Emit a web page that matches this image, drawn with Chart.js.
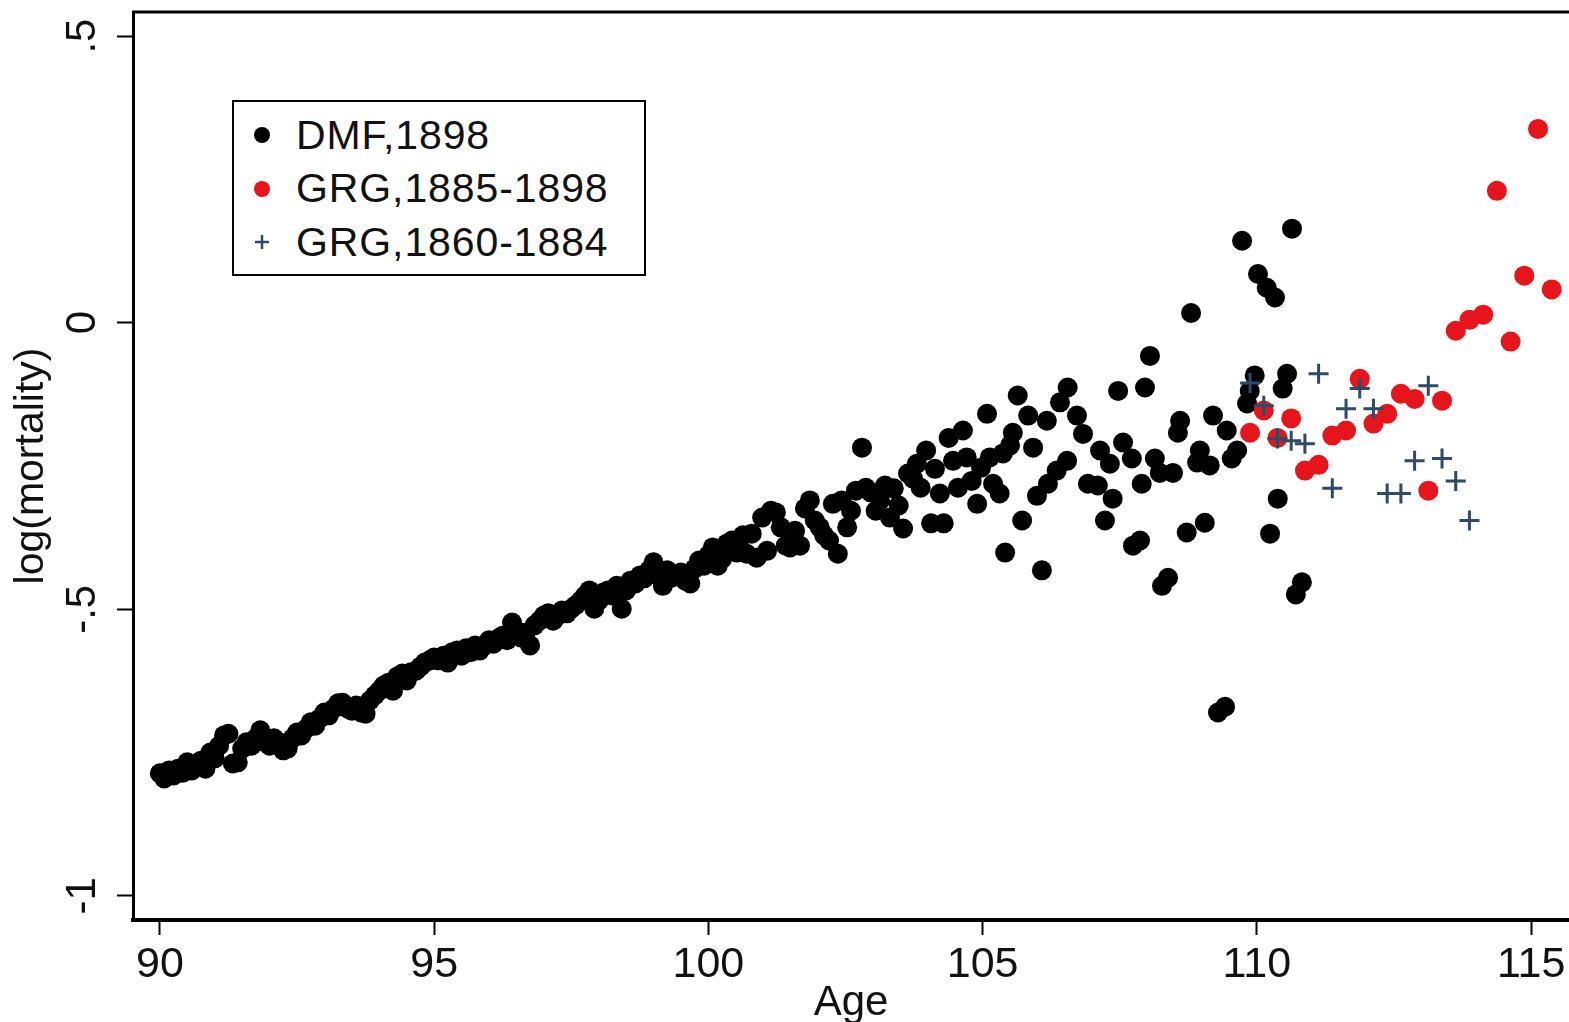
<!DOCTYPE html>
<html>
<head>
<meta charset="utf-8">
<script src="https://cdn.jsdelivr.net/npm/chart.js@4.4.1/dist/chart.umd.min.js"></script>
<style>
  html, body { margin: 0; padding: 0; background: #fff; }
  #wrap { position: relative; width: 1569px; height: 1022px; overflow: hidden; }
  #chart { position: absolute; left: 0; top: 0; }
  #legend {
    position: absolute; left: 232px; top: 100px; width: 414px; height: 176px;
    box-sizing: border-box; border: 2px solid #000; background: #fff;
    font-family: "Liberation Sans", Arial, sans-serif; font-size: 41px; color: #111;
    letter-spacing: 0.9px;
  }
  .leg-row { position: absolute; left: 0; height: 52px; display: flex; align-items: center; }
  .leg-mark { width: 56px; height: 52px; display: flex; align-items: center; justify-content: center; }
  .leg-dot { width: 16px; height: 16px; border-radius: 50%; }
  .leg-text { margin-left: 6px; }
</style>
</head>
<body>
<div id="wrap">
  <canvas id="chart" width="1569" height="1022"></canvas>
  <div id="legend"></div>
</div>
<script>
// DMF, 1898 (black dots)
const dmfAge = [
  90.00, 90.08, 90.17, 90.25, 90.33, 90.42, 90.50, 90.58, 90.67, 90.75, 90.83, 90.92,
  91.00, 91.08, 91.17, 91.25, 91.33, 91.42, 91.50, 91.58, 91.67, 91.75, 91.83, 91.92,
  92.00, 92.08, 92.17, 92.25, 92.33, 92.42, 92.50, 92.58, 92.67, 92.75, 92.83, 92.92,
  93.00, 93.08, 93.17, 93.25, 93.33, 93.42, 93.50, 93.58, 93.67, 93.75, 93.83, 93.92,
  94.00, 94.08, 94.17, 94.25, 94.33, 94.42, 94.50, 94.58, 94.67, 94.75, 94.83, 94.92,
  95.00, 95.08, 95.17, 95.25, 95.33, 95.42, 95.50, 95.58, 95.67, 95.75, 95.83, 95.92,
  96.00, 96.08, 96.17, 96.25, 96.33, 96.42, 96.50, 96.58, 96.67, 96.75, 96.83, 96.92,
  97.00, 97.08, 97.17, 97.25, 97.33, 97.42, 97.50, 97.58, 97.67, 97.75, 97.83, 97.92,
  98.00, 98.08, 98.17, 98.25, 98.33, 98.42, 98.50, 98.58, 98.67, 98.75, 98.83, 98.92,
  99.00, 99.08, 99.17, 99.25, 99.33, 99.42, 99.50, 99.58, 99.67, 99.75, 99.83, 99.92,
  100.00, 100.08,
  100.17, 100.25, 100.34, 100.43, 100.52, 100.63, 100.70, 100.79, 100.88, 100.98,
  101.07, 101.14, 101.23, 101.32, 101.41, 101.49, 101.58, 101.67, 101.76, 101.85, 101.94,
  102.03, 102.11, 102.20, 102.27, 102.36, 102.43, 102.53, 102.60, 102.69, 102.80, 102.87, 102.96,
  103.05, 103.13, 103.22, 103.31, 103.38, 103.47, 103.55, 103.64, 103.73, 103.80, 103.87, 103.97,
  104.06, 104.13, 104.22, 104.29, 104.38, 104.46, 104.55, 104.64, 104.71, 104.80, 104.90, 104.97,
  105.08, 105.13, 105.19, 105.31, 105.37, 105.41, 105.50, 105.55, 105.64, 105.72, 105.83, 105.92, 105.99,
  106.08, 106.17, 106.19, 106.35, 106.41, 106.54, 106.55, 106.72, 106.83, 106.92,
  107.10, 107.14, 107.23, 107.32, 107.37, 107.47, 107.56, 107.72, 107.74, 107.87, 107.90, 107.96,
  108.05, 108.14, 108.23, 108.27, 108.38, 108.47, 108.56, 108.60, 108.72, 108.80, 108.91, 108.96,
  109.05, 109.14, 109.20, 109.29, 109.42, 109.45, 109.54, 109.64, 109.73, 109.82, 109.87, 109.96,
  110.02, 110.18, 110.24, 110.33, 110.38, 110.47, 110.55, 110.64, 110.71, 110.82
];
const dmfLogMort = [
  -0.786, -0.795, -0.781, -0.790, -0.778, -0.785, -0.767, -0.781, -0.772, -0.764, -0.778, -0.750,
  -0.760, -0.738, -0.720, -0.717, -0.769, -0.767, -0.743, -0.732, -0.738, -0.725, -0.711, -0.732,
  -0.738, -0.725, -0.732, -0.746, -0.743, -0.725, -0.715, -0.720, -0.708, -0.697, -0.703, -0.690,
  -0.680, -0.685, -0.673, -0.664, -0.663, -0.673, -0.677, -0.668, -0.680, -0.682, -0.659, -0.650,
  -0.642, -0.633, -0.628, -0.642, -0.617, -0.612, -0.624, -0.610, -0.607, -0.600, -0.593, -0.589,
  -0.584, -0.589, -0.581, -0.593, -0.575, -0.572, -0.581, -0.568, -0.575, -0.563, -0.572, -0.563,
  -0.554, -0.560, -0.551, -0.546, -0.554, -0.523, -0.537, -0.549, -0.541, -0.563, -0.528, -0.520,
  -0.511, -0.507, -0.520, -0.511, -0.502, -0.507, -0.499, -0.493, -0.485, -0.476, -0.467, -0.499,
  -0.485, -0.471, -0.467, -0.476, -0.459, -0.499, -0.467, -0.450, -0.455, -0.441, -0.446, -0.432,
  -0.418, -0.441, -0.459, -0.432, -0.445, -0.441, -0.436, -0.450, -0.455, -0.429, -0.415, -0.424,
  -0.406, -0.392,
  -0.424, -0.412, -0.385, -0.380, -0.401, -0.371, -0.403, -0.368, -0.410, -0.340,
  -0.398, -0.328, -0.331, -0.357, -0.389, -0.392, -0.363, -0.389, -0.324, -0.310, -0.345,
  -0.357, -0.371, -0.380, -0.316, -0.403, -0.310, -0.357, -0.328, -0.293, -0.218, -0.288, -0.296,
  -0.328, -0.310, -0.284, -0.340, -0.289, -0.319, -0.359, -0.263, -0.272, -0.246, -0.288, -0.223,
  -0.350, -0.255, -0.298, -0.350, -0.201, -0.241, -0.288, -0.188, -0.235, -0.276, -0.316, -0.253,
  -0.159, -0.235, -0.281, -0.298, -0.228, -0.401, -0.214, -0.192, -0.127, -0.345, -0.162, -0.218, -0.302,
  -0.432, -0.171, -0.281, -0.258, -0.139, -0.241, -0.113, -0.162, -0.194, -0.281,
  -0.284, -0.223, -0.345, -0.246, -0.307, -0.119, -0.209, -0.237, -0.389, -0.380, -0.281, -0.113,
  -0.058, -0.237, -0.262, -0.459, -0.445, -0.262, -0.192, -0.171, -0.366, 0.017, -0.244, -0.223,
  -0.349, -0.249, -0.162, -0.680, -0.670, -0.188, -0.237, -0.223, 0.143, -0.141, -0.119, -0.092,
  0.085, 0.061, -0.368, 0.044, -0.307, -0.115, -0.089, 0.164, -0.474, -0.453
];

// GRG, 1885-1898 (red dots)
const grgNewAge = [109.875, 110.125, 110.375, 110.625, 110.875, 111.125, 111.375, 111.625,
  111.875, 112.125, 112.375, 112.625, 112.875, 113.125, 113.375, 113.625, 113.875, 114.125,
  114.375, 114.625, 114.875, 115.125, 115.375];
const grgNewLogMort = [-0.192, -0.153, -0.201, -0.167, -0.258, -0.248, -0.197, -0.188,
  -0.098, -0.176, -0.159, -0.124, -0.133, -0.293, -0.136, -0.014, 0.005, 0.014,
  0.230, -0.033, 0.082, 0.338, 0.058];

// GRG, 1860-1884 (plus signs)
const grgOldAge = [109.875, 110.125, 110.375, 110.625, 110.875, 111.125, 111.375, 111.625,
  111.875, 112.125, 112.375, 112.625, 112.875, 113.125, 113.375, 113.625, 113.875];
const grgOldLogMort = [-0.105, -0.145, -0.202, -0.206, -0.211, -0.089, -0.289, -0.150,
  -0.115, -0.150, -0.298, -0.298, -0.241, -0.110, -0.237, -0.276, -0.345];

const xTicks = [90, 95, 100, 105, 110, 115];
const yTicks = [-1, -0.5, 0, 0.5];

const FONT = '"Liberation Sans", Arial, sans-serif';
const INK = "#111";

function pts(xs, ys) { return xs.map((x, i) => ({ x, y: ys[i] })); }
function fmtY(v) { return v === 0 ? "0" : String(v).replace("0.", "."); }

const series = [
  { label: "DMF,1898", data: pts(dmfAge, dmfLogMort), pointStyle: "circle", pointRadius: 10,
    backgroundColor: "#000", borderColor: "#000", borderWidth: 0, order: 3 },
  { label: "GRG,1885-1898", data: pts(grgNewAge, grgNewLogMort), pointStyle: "circle", pointRadius: 10,
    backgroundColor: "#e8141c", borderColor: "#e8141c", borderWidth: 0, order: 2 },
  { label: "GRG,1860-1884", data: pts(grgOldAge, grgOldLogMort), pointStyle: "cross", pointRadius: 10,
    backgroundColor: "#2d4b69", borderColor: "#2d4b69", borderWidth: 3, order: 1 },
];

// top edge of the plot frame
const frameTop = {
  id: "frameTop",
  afterDraw(c) {
    const { ctx, chartArea: a } = c;
    ctx.save();
    ctx.strokeStyle = "#000";
    ctx.lineWidth = 3;
    ctx.beginPath();
    ctx.moveTo(a.left - 1, a.top);
    ctx.lineTo(a.right, a.top);
    ctx.stroke();
    ctx.restore();
  },
};

new Chart(document.getElementById("chart"), {
  type: "scatter",
  data: { datasets: series },
  options: {
    responsive: false,
    animation: false,
    events: [],
    layout: { autoPadding: false, padding: { left: 0, top: 12, right: 0, bottom: 0 } },
    plugins: { legend: { display: false }, tooltip: { enabled: false } },
    scales: {
      x: {
        type: "linear", position: "bottom", min: 89.51, max: 115.69,
        afterFit: s => { s.height = 102; s.paddingLeft = 0; s.paddingRight = 0; },
        afterBuildTicks: s => { s.ticks = xTicks.map(v => ({ value: v })); },
        ticks: { color: INK, font: { family: FONT, size: 43 }, padding: 4, maxRotation: 0, autoSkip: false },
        grid: { display: true, drawOnChartArea: false, drawTicks: true, tickLength: 15, tickWidth: 2, tickColor: "#000" },
        border: { display: true, color: "#000", width: 4 },
        title: { display: true, text: "Age", color: INK, font: { family: FONT, size: 42, lineHeight: 0.9 }, padding: { top: 0, bottom: 0 } },
      },
      y: {
        type: "linear", position: "left", min: -1.042, max: 0.542,
        afterFit: s => { s.width = 133; s.paddingTop = 0; s.paddingBottom = 0; },
        afterBuildTicks: s => { s.ticks = yTicks.map(v => ({ value: v })); },
        ticks: { color: INK, font: { family: FONT, size: 42 }, minRotation: 90, maxRotation: 90,
          crossAlign: "center", padding: 9, autoSkip: false, callback: v => fmtY(v) },
        grid: { display: true, drawOnChartArea: false, drawTicks: true, tickLength: 16, tickWidth: 2, tickColor: "#000" },
        border: { display: true, color: "#000", width: 3 },
        title: { display: true, text: "log(mortality)", color: INK, font: { family: FONT, size: 41, lineHeight: 0.9 }, padding: { top: 13, bottom: 0 } },
      },
    },
  },
  plugins: [frameTop],
});

// legend box, built from the dataset styles
const legendEl = document.getElementById("legend");
series.forEach((s, i) => {
  const row = document.createElement("div");
  row.className = "leg-row";
  row.style.top = (7 + i * 53.5) + "px";
  const mark = s.pointStyle === "cross"
    ? `<svg width="16" height="16" viewBox="0 0 16 16"><path d="M8 1V15M1 8H15" stroke="${s.borderColor}" stroke-width="2.5"/></svg>`
    : `<div class="leg-dot" style="background:${s.backgroundColor}"></div>`;
  row.innerHTML = `<div class="leg-mark">${mark}</div><span class="leg-text">${s.label}</span>`;
  legendEl.appendChild(row);
});
</script>
</body>
</html>
